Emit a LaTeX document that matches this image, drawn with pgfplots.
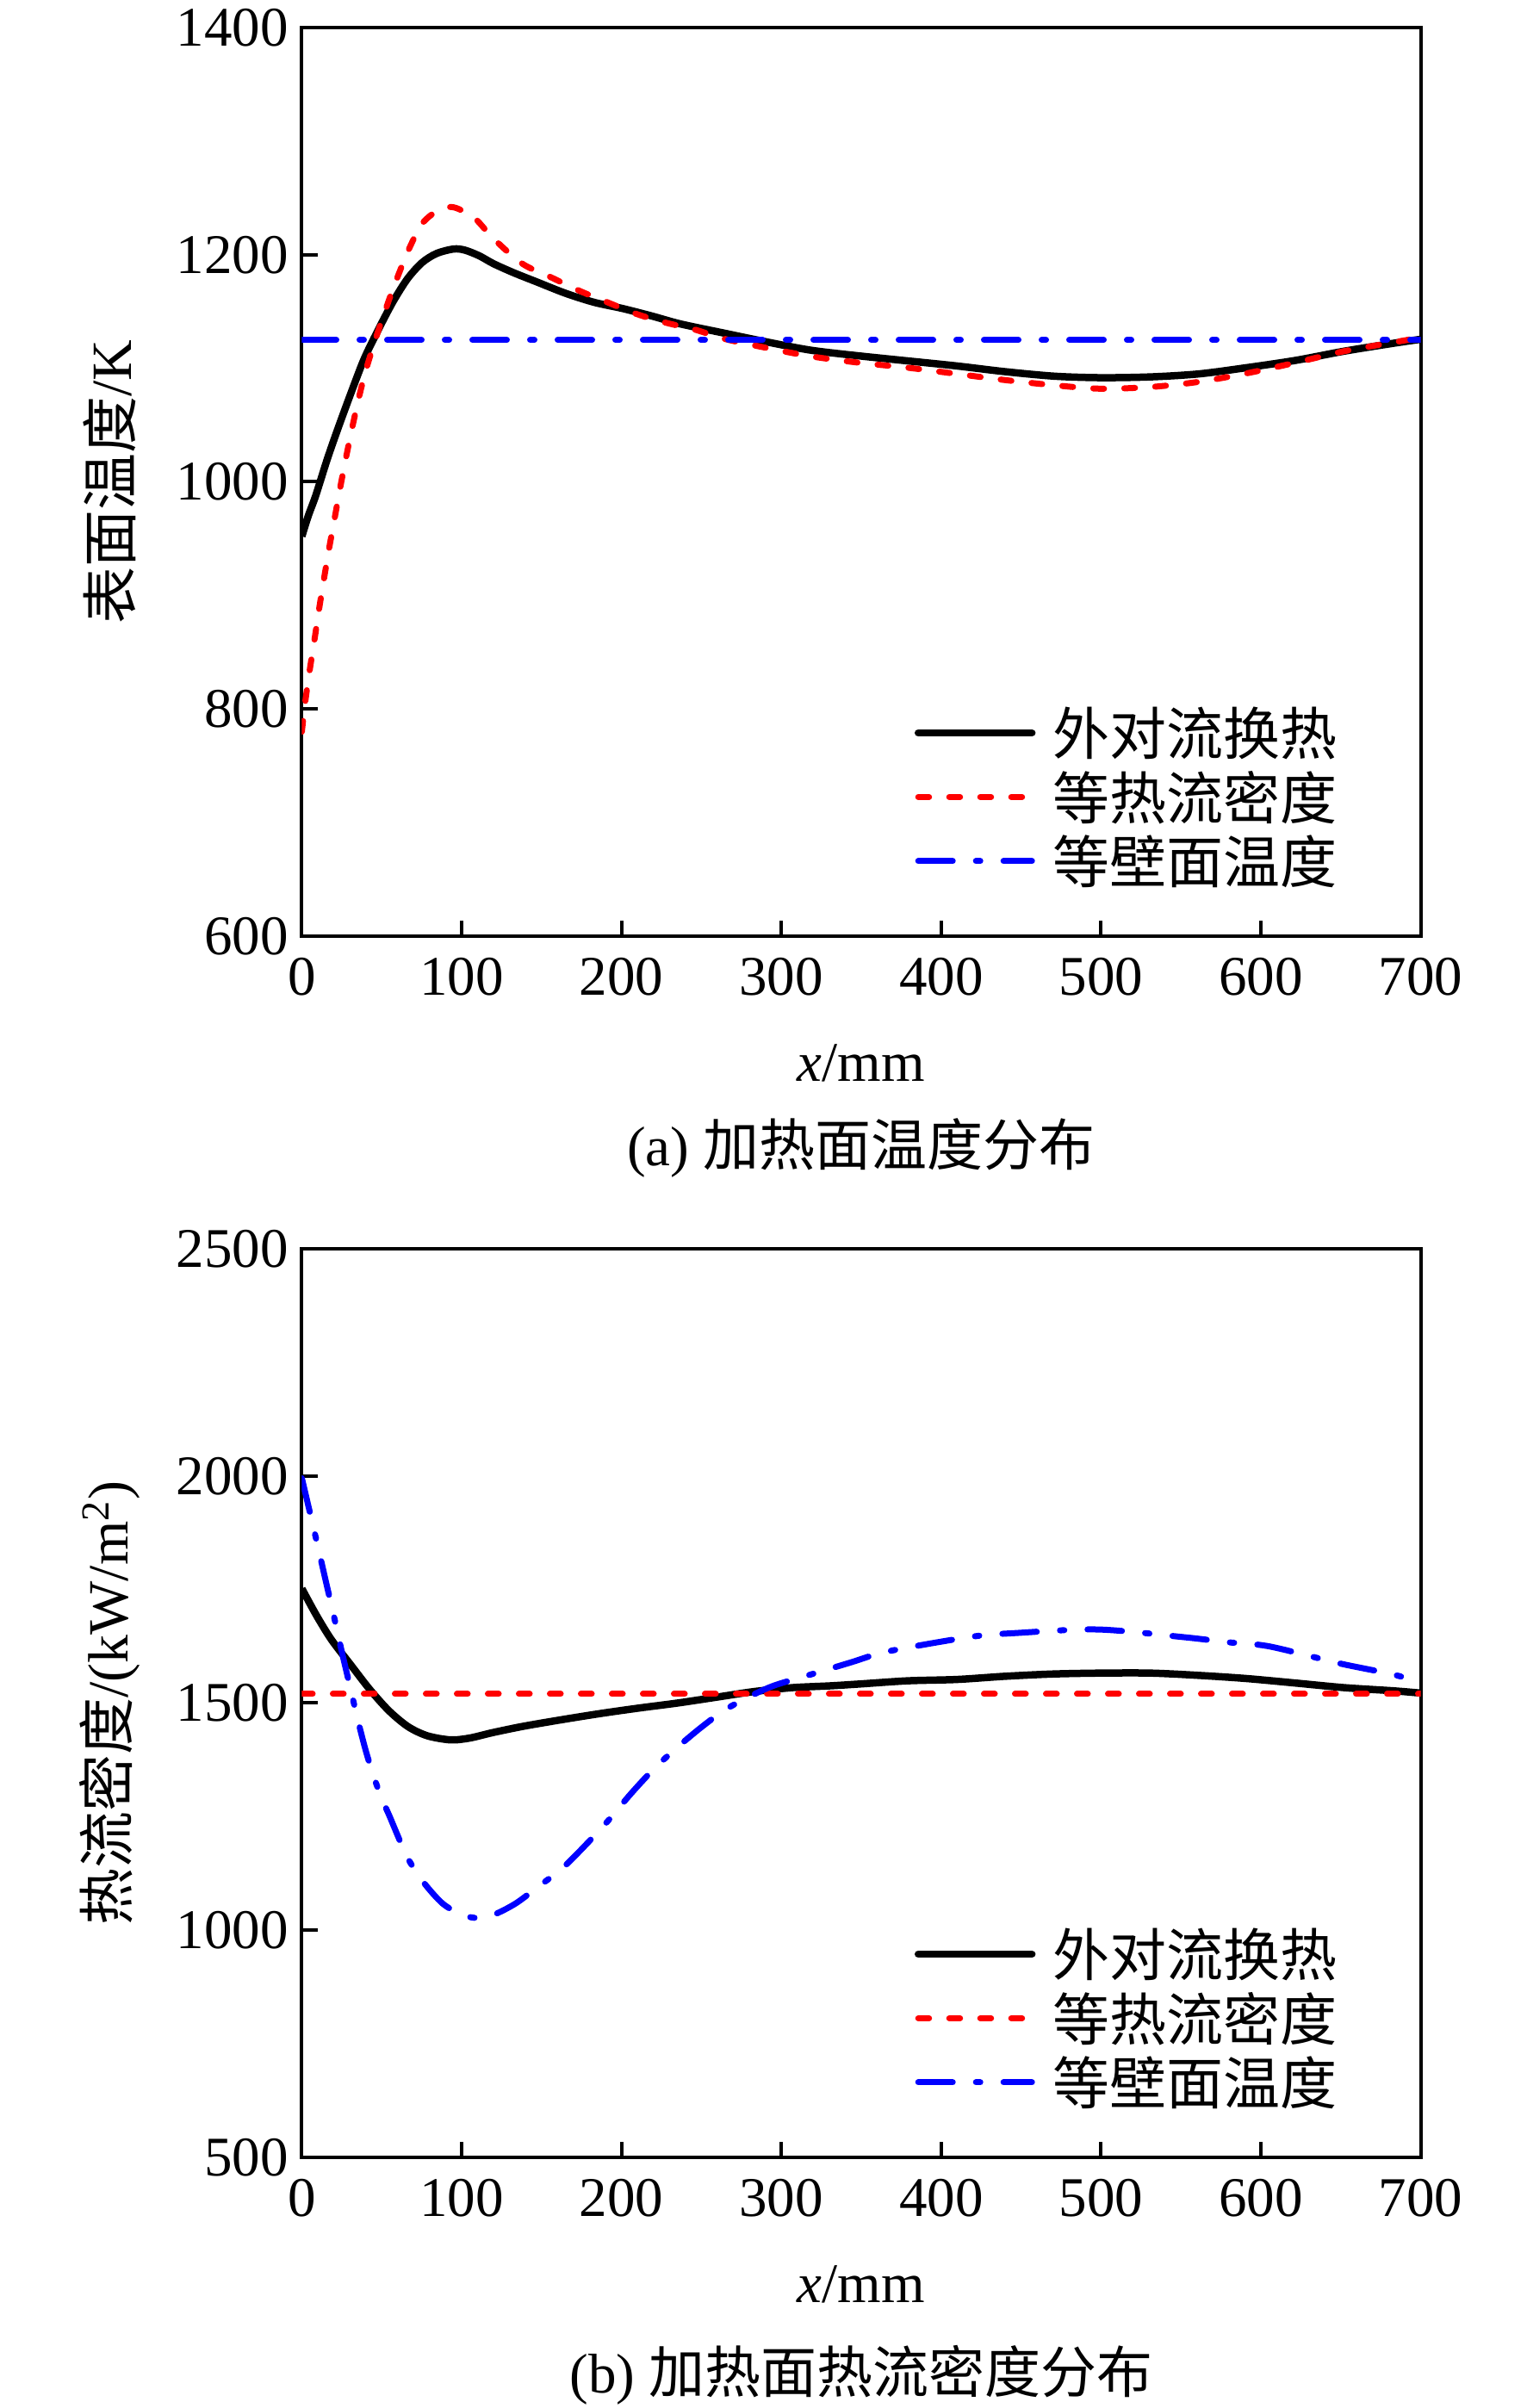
\documentclass[border=0pt]{standalone}
\usepackage{fontspec}
\setmainfont{Liberation Serif}
\newfontfamily\cjk{Noto Sans CJK SC}
\usepackage{pgfplots}
\pgfplotsset{compat=1.18}
\newcommand{\zh}[1]{{\cjk #1}}
\newcommand{\tfs}{\fontsize{13}{15.6}\selectfont}
\newcommand{\zfs}{\fontsize{13.2}{15.8}\selectfont}
\definecolor{pred}{RGB}{255,0,0}
\definecolor{pblue}{RGB}{0,0,255}
\pgfplotsset{
  myax/.style={
    scale only axis, width=259.8pt, height=211pt,
    xmin=0, xmax=700, xtick={0,100,...,700},
    axis line style={line width=0.8pt},
    every tick/.style={line width=0.8pt, black},
    major tick length=3.6pt,
    tick align=inside, tick pos=left,
    tick label style={font=\tfs},
    /pgf/number format/assume math mode=true,
    /pgf/number format/1000 sep={},
    xticklabel style={yshift=-1.6pt},
    yticklabel style={xshift=0.4pt},
    xlabel={\textit{x}/mm},
    xlabel style={at={(axis description cs:0.5,-0.140)}, anchor=center, font=\tfs},
    ylabel style={at={(axis description cs:-0.172,0.5)}, anchor=center, font=\zfs},
    legend style={draw=none, fill=none, inner sep=0pt, outer sep=0pt,
      at={(axis description cs:0.5477,0.2455)}, anchor=north west,
      row sep=2.1pt, font=\zfs\cjk,
      nodes={inner sep=0pt, outer sep=0pt, text height=9.8pt, text depth=3pt}},
    legend cell align=left,
    legend image code/.code={\draw[##1, line cap=round] (0pt,1.8pt) -- (26.4pt,1.8pt); \path (0pt,0pt) (30.4pt,0pt);},
  },
  sblack/.style={black, line width=1.7pt, smooth},
  sred/.style={pred, line width=1.4pt, line cap=round, dash pattern=on 2.5pt off 4.7pt, smooth},
  sblue/.style={pblue, line width=1.4pt, line cap=round, dash pattern=on 8pt off 5.4pt on 1pt off 5.4pt, smooth},
}
\begin{document}
\begin{tikzpicture}
\path[use as bounding box] (0,0) rectangle (354.4pt,559.2pt);
\begin{axis}[myax, at={(70.1pt,341.8pt)}, anchor=south west,
  ymin=600, ymax=1400, ytick={600,800,...,1400},
  ylabel={\zh{表面温度}/K}]
\addplot[sblack] coordinates {
(0,952) (4,970) (8.7,988) (15.9,1020) (23.1,1049) (32,1083) (39.2,1109) (48.2,1135)
(57.2,1159) (66.2,1179) (75.2,1193) (84.2,1201) (94.9,1205) (102,1204) (111,1199)
(120,1192) (132.7,1184) (147,1176) (165,1166) (183,1158) (201,1152.5) (219,1146)
(237,1139) (264,1131) (288,1124) (318,1116) (348,1111) (379,1106.5) (410,1102)
(440,1097) (471,1093) (500,1091.7) (531,1092.4) (561,1095) (591,1100.5) (622,1107)
(652,1115) (683,1122) (700,1125.5)};
\addlegendentry{外对流换热}
\addplot[sred] coordinates {
(0,780) (2,805) (5,835) (8,862) (11,890) (14,916) (17,941) (20,964) (24,995)
(28,1024) (32,1051) (36,1076) (40,1098) (45,1121) (50,1142) (56,1166) (62,1188)
(68,1208) (75,1227) (84,1238) (93,1242) (100,1239) (109,1231) (120,1214) (138,1192)
(156,1180) (174,1168) (192,1157.6) (210,1147.5) (228,1140) (246,1134) (264,1126)
(288,1118.7) (318,1110.6) (348,1105) (379,1100.5) (410,1095) (440,1089.6) (471,1085)
(500,1082) (531,1083.5) (561,1088) (591,1095.5) (622,1105) (652,1115) (683,1122.8)
(700,1127)};
\addlegendentry{等热流密度}
\addplot[sblue] coordinates {(0,1125) (100,1125) (200,1125) (300,1125) (400,1125) (500,1125) (600,1125) (700,1125)};
\addlegendentry{等壁面温度}
\end{axis}
\node[font=\tfs] at (200pt,292.6pt) {(a) \zh{加热面温度分布}};
\begin{axis}[myax, at={(70.1pt,58.2pt)}, anchor=south west,
  ymin=500, ymax=2500, ytick={500,1000,...,2500},
  ylabel={\zh{热流密度}/(kW/m\textsuperscript{2})}]
\addplot[sblack] coordinates {
(0,1752) (8.8,1695) (18.4,1640) (30.4,1585) (42.5,1530) (54.5,1483) (66.5,1448)
(78.5,1428) (93,1419) (105,1423) (119.4,1435) (138.7,1449) (162.7,1463.5)
(186.8,1477) (210.8,1489) (234.9,1500) (259,1512.7) (283,1525.4) (307,1534)
(331,1538) (349,1542) (379,1549) (410,1552) (440,1559) (470,1564) (500,1566)
(531,1566) (561,1561) (591,1554) (622,1544) (652,1534) (683,1527) (700,1522)};
\addlegendentry{外对流换热}
\addplot[sred] coordinates {(0,1520) (100,1520) (200,1520) (300,1520) (400,1520) (500,1520) (600,1520) (700,1520)};
\addlegendentry{等热流密度}
\addplot[sblue] coordinates {
(0,1995) (5,1920) (10,1845) (15,1768) (20,1692) (25,1613) (30,1538) (35,1463)
(40,1395) (45,1338) (50,1290) (55,1250) (60,1208) (66,1160) (76,1106) (88,1059)
(100,1034) (110,1027) (120,1034) (133.8,1059) (148.3,1097) (162.7,1135.5)
(177.1,1186) (191.6,1241) (206,1301) (220.5,1356) (234.9,1402.5) (249.3,1445)
(263.8,1483) (278.2,1511) (295,1538) (319,1563.5) (343,1589) (367,1614) (419,1646)
(446,1654) (498,1662) (552,1645) (579,1634) (605,1625) (646,1590) (662,1578)
(679,1566) (695,1552) (700,1549)};
\addlegendentry{等壁面温度}
\end{axis}
\node[font=\tfs] at (200pt,7.7pt) {(b) \zh{加热面热流密度分布}};
\end{tikzpicture}
\end{document}
